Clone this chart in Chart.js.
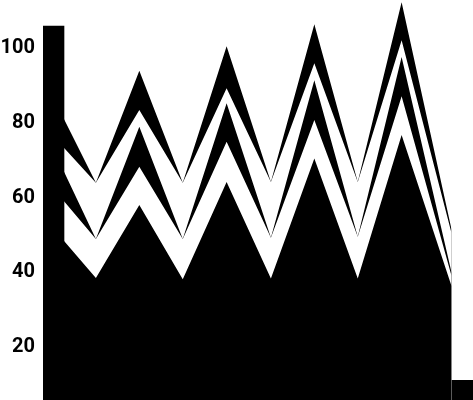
<!DOCTYPE html>
<html>
<head>
<meta charset="utf-8">
<script src="https://cdn.jsdelivr.net/npm/chart.js@4"></script>
<style>
  html, body { margin: 0; padding: 0; background: #fff; overflow: hidden; }
  #wrap { width: 473px; height: 400px; }
</style>
</head>
<body>
<div id="wrap"><canvas id="myChart"></canvas></div>
<script>
// x positions along the (hidden) axis
var xs = [0.47, 1.23, 2.24, 3.25, 4.27, 5.3, 6.31, 7.32, 8.34, 9.5];
var barXs = [0, 10];
var barValues = [106, 11];

// layers, top to bottom (black, white, black, white, black)
var layer1 = [81.5, 64.0, 94.0, 64.0, 100.6, 64.2, 106.5, 64.2, 112.4, 51.5];
var layer2 = [73.6, 64.0, 83.5, 64.0, 89.3, 64.2, 96.0, 64.2, 102.2, 50.5];
var layer3 = [67.4, 48.9, 79.0, 48.9, 85.3, 49.2, 91.5, 49.5, 97.7, 40.0];
var layer4 = [59.3, 48.9, 68.3, 48.9, 75.0, 49.2, 80.8, 49.5, 87.2, 39.0];
var layer5 = [48.6, 38.4, 58.0, 38.1, 64.2, 38.3, 70.5, 38.3, 76.8, 36.3];

var yTicks = [20, 40, 60, 80, 100];

function points(values) {
    return values.map(function (v, i) { return { x: xs[i], y: v }; });
}

function layer(values, colour) {
    return {
        type: 'line',
        data: points(values),
        backgroundColor: colour,
        borderColor: 'rgba(0,0,0,0)',
        borderWidth: 0,
        pointRadius: 0,
        tension: 0,
        fill: 'origin'
    };
}

var ctx = document.getElementById('myChart').getContext('2d');
var myChart = new Chart(ctx, {
    type: 'bar',
    data: {
        datasets: [{
            type: 'bar',
            data: barValues.map(function (v, i) { return { x: barXs[i], y: v }; }),
            backgroundColor: '#000',
            barThickness: 42,
            clip: 0
        },
            layer(layer5, '#000'),
            layer(layer4, '#fff'),
            layer(layer3, '#000'),
            layer(layer2, '#fff'),
            layer(layer1, '#000')
        ]
    },
    options: {
        responsive: true,
        maintainAspectRatio: false,
        animation: false,
        layout: { padding: 0 },
        plugins: { legend: { display: false }, tooltip: { enabled: false } },
        scales: {
            x: {
                type: 'linear',
                min: 0,
                max: 10,
                offset: false,
                display: false
            },
            y: {
                min: 5.7,
                max: 113,
                grid: { display: false, drawTicks: false },
                border: { display: false },
                ticks: {
                    color: '#000',
                    padding: 8,
                    font: { family: 'Roboto', size: 20, weight: 'bold' }
                },
                afterBuildTicks: function (scale) {
                    scale.ticks = yTicks.map(function (v) { return { value: v }; });
                },
                afterFit: function (scale) {
                    scale.width = 43;
                    scale.paddingTop = 0;
                    scale.paddingBottom = 0;
                }
            }
        }
    }
});
</script>
</body>
</html>
